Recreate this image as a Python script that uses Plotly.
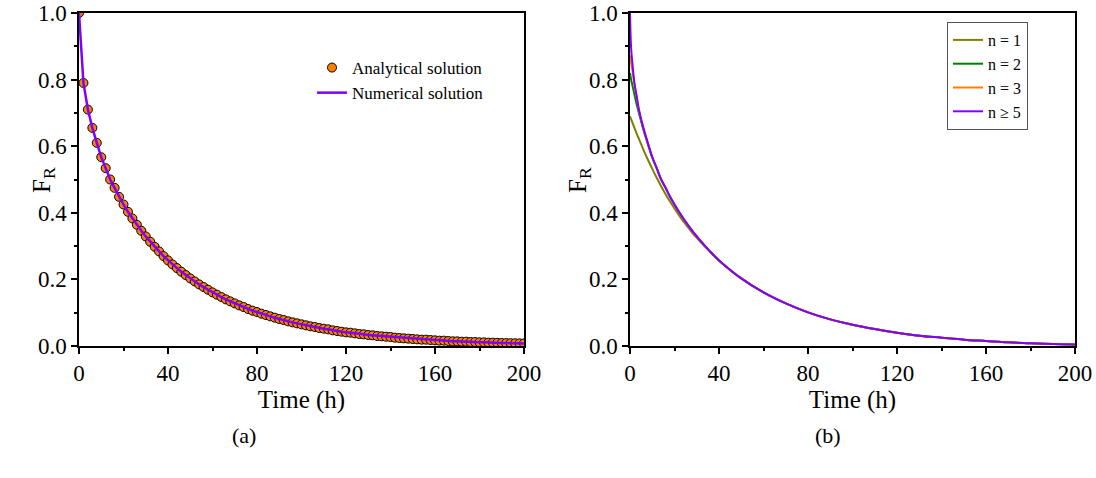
import plotly.graph_objects as go

# ---------------- data ----------------
# Panel (a): release fraction vs time, every 2 h
time_a = list(range(0, 202, 2))
analytical = [
    1.0, 0.79, 0.71, 0.655, 0.61, 0.567, 0.534, 0.50, 0.475, 0.448,
    0.425, 0.403, 0.383, 0.364, 0.346, 0.329, 0.313, 0.298, 0.284, 0.270,
    0.257, 0.245, 0.234, 0.223, 0.213, 0.203, 0.194, 0.185, 0.177, 0.169,
    0.161, 0.154, 0.147, 0.140, 0.134, 0.128, 0.122, 0.117, 0.111, 0.106,
    0.102, 0.097, 0.093, 0.089, 0.085, 0.081, 0.078, 0.074, 0.071, 0.068,
    0.065, 0.062, 0.059, 0.057, 0.054, 0.052, 0.050, 0.047, 0.045, 0.043,
    0.041, 0.040, 0.038, 0.036, 0.035, 0.033, 0.032, 0.030, 0.029, 0.028,
    0.027, 0.025, 0.024, 0.023, 0.022, 0.021, 0.020, 0.019, 0.019, 0.018,
    0.017, 0.016, 0.016, 0.015, 0.014, 0.014, 0.013, 0.013, 0.012, 0.012,
    0.011, 0.011, 0.010, 0.010, 0.0095, 0.009, 0.0088, 0.0085, 0.0082, 0.008,
    0.0078,
]
numerical = analytical

# Panel (b): truncated-series solutions
time_b = [0, 0.5, 1, 2, 3, 4, 6, 8, 10, 12, 14, 16, 18, 20, 22, 24, 26, 28, 30,
          32, 34, 36, 38, 40, 50, 60, 70, 80, 90, 100, 110, 120, 130, 140,
          150, 160, 170, 180, 190, 200]
n5 = [1.0, 0.895, 0.855, 0.79, 0.75, 0.71, 0.655, 0.61, 0.567, 0.534, 0.50,
      0.475, 0.448, 0.425, 0.403, 0.383, 0.364, 0.346, 0.329, 0.313, 0.298,
      0.284, 0.270, 0.257, 0.203, 0.161, 0.128, 0.101, 0.080, 0.064, 0.051,
      0.040, 0.031, 0.025, 0.019, 0.015, 0.011, 0.0085, 0.006, 0.0045]
n3 = [0.873, 0.85, 0.83, 0.785, 0.748, 0.709, 0.655, 0.61, 0.567, 0.534, 0.50,
      0.475, 0.448, 0.425, 0.403, 0.383, 0.364, 0.346, 0.329, 0.313, 0.298,
      0.284, 0.270, 0.257, 0.203, 0.161, 0.128, 0.101, 0.080, 0.064, 0.051,
      0.040, 0.031, 0.025, 0.019, 0.015, 0.011, 0.0085, 0.006, 0.0045]
n2 = [0.82, 0.80, 0.785, 0.755, 0.725, 0.70, 0.65, 0.607, 0.566, 0.534, 0.50,
      0.475, 0.448, 0.425, 0.403, 0.383, 0.364, 0.346, 0.329, 0.313, 0.298,
      0.284, 0.270, 0.257, 0.203, 0.161, 0.128, 0.101, 0.080, 0.064, 0.051,
      0.040, 0.031, 0.025, 0.019, 0.015, 0.011, 0.0085, 0.006, 0.0045]
n1 = [0.69, 0.681, 0.672, 0.655, 0.638, 0.622, 0.59, 0.56, 0.532, 0.505, 0.48,
      0.456, 0.434, 0.413, 0.393, 0.374, 0.357, 0.34, 0.325, 0.311, 0.297,
      0.283, 0.270, 0.257, 0.203, 0.161, 0.128, 0.101, 0.080, 0.064, 0.051,
      0.040, 0.031, 0.025, 0.019, 0.015, 0.011, 0.0085, 0.006, 0.0045]

x_ticks = [0, 40, 80, 120, 160, 200]
y_ticks = [0.0, 0.2, 0.4, 0.6, 0.8, 1.0]

ORANGE = "#FF7F00"
PURPLE = "#8000FF"
OLIVE = "#808000"
GREEN = "#008000"
FONT = "Liberation Serif, Times New Roman, serif"

fig = go.Figure()

fig.add_trace(go.Scatter(
    x=time_a, y=analytical, mode="markers", name="Analytical solution",
    marker=dict(color=ORANGE, size=9, line=dict(color="black", width=1)),
    xaxis="x", yaxis="y", legend="legend"))
fig.add_trace(go.Scatter(
    x=time_a, y=numerical, mode="lines", name="Numerical solution",
    line=dict(color=PURPLE, width=2.5), xaxis="x", yaxis="y", legend="legend"))

for name, vals, col in [("n = 1", n1, OLIVE), ("n = 2", n2, GREEN),
                        ("n = 3", n3, ORANGE), ("n ≥ 5", n5, PURPLE)]:
    fig.add_trace(go.Scatter(
        x=time_b, y=vals, mode="lines", name=name, line_shape="spline",
        line=dict(color=col, width=2), xaxis="x2", yaxis="y2",
        legend="legend2"))

axis_common = dict(
    showline=True, linecolor="black", linewidth=1.5, mirror=True,
    ticks="outside", ticklen=6, tickwidth=1.5, tickcolor="black",
    showgrid=False, zeroline=False, automargin=False,
    ticklabeloverflow="allow",
    tickfont=dict(family=FONT, size=23, color="black"),
)
xcommon = dict(axis_common, range=[0, 200], tickvals=x_ticks,
               minor=dict(ticks="outside", ticklen=3, tickwidth=1.5,
                          dtick=20, tickcolor="black"),
               title=dict(text="Time (h)", font=dict(family=FONT, size=25,
                                                      color="black"),
                          standoff=0))
ycommon = dict(axis_common, range=[0, 1], tickvals=y_ticks, tickformat=".1f",
               minor=dict(ticks="outside", ticklen=3, tickwidth=1.5,
                          dtick=0.1, tickcolor="black"))

W, H = 1096, 478
top, bottom = 13, 346
ydom = [(H - bottom) / H, (H - top) / H]


def px(x):
    return x / W


def py(y):
    return (H - y) / H


ann_font = dict(family=FONT, size=25, color="black")
fig.update_layout(
    template="none",
    width=W, height=H, autosize=False,
    margin=dict(l=0, r=0, t=0, b=0, pad=0),
    paper_bgcolor="white", plot_bgcolor="white",
    font=dict(family=FONT, color="black"),
    xaxis=dict(xcommon, domain=[px(79), px(524)], anchor="y"),
    yaxis=dict(ycommon, domain=ydom, anchor="x"),
    xaxis2=dict(xcommon, domain=[px(630), px(1075)], anchor="y2"),
    yaxis2=dict(ycommon, domain=ydom, anchor="x2"),
    legend=dict(x=px(312), y=py(50), xanchor="left", yanchor="top",
                bgcolor="rgba(0,0,0,0)", borderwidth=0,
                font=dict(family=FONT, size=17, color="black"),
                tracegroupgap=0),
    legend2=dict(x=px(947), y=py(22), xanchor="left", yanchor="top",
                 bgcolor="white", bordercolor="#555555", borderwidth=1,
                 font=dict(family=FONT, size=16, color="black"),
                 tracegroupgap=0),
    annotations=[
        dict(text="F<sub>R</sub>", x=px(43), y=py(180), xref="paper",
             yref="paper", showarrow=False, textangle=-90,
             xanchor="center", yanchor="middle", font=ann_font),
        dict(text="F<sub>R</sub>", x=px(579), y=py(180), xref="paper",
             yref="paper", showarrow=False, textangle=-90,
             xanchor="center", yanchor="middle", font=ann_font),
        dict(text="(a)", x=px(244), y=py(435), xref="paper",
             yref="paper", showarrow=False, xanchor="center",
             yanchor="middle",
             font=dict(family=FONT, size=22, color="black")),
        dict(text="(b)", x=px(828), y=py(435), xref="paper",
             yref="paper", showarrow=False, xanchor="center",
             yanchor="middle",
             font=dict(family=FONT, size=22, color="black")),
    ],
)

fig.write_html(
    "out.html",
    config={"displayModeBar": False},
    post_script="document.body.style.margin='0';"
                "document.body.style.overflow='hidden';",
)
